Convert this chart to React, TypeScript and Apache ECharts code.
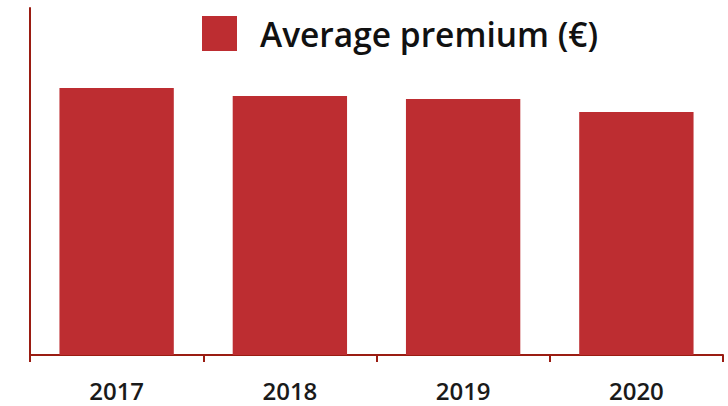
import React, { useEffect, useRef } from "react";
import * as echarts from "echarts";

const categories = ["2017", "2018", "2019", "2020"];
const premiumValues = [1000, 970, 959, 910];
const seriesName = "Average premium (€)";

export default function App() {
  const ref = useRef<HTMLDivElement>(null);
  useEffect(() => {
    if (!ref.current) return;
    const chart = echarts.init(ref.current, null, { renderer: "svg" });
    chart.setOption({
      animation: false,
      legend: {
        left: 202,
        top: 16,
        padding: 0,
        itemWidth: 35,
        itemHeight: 35,
        icon: "rect",
        textStyle: {
          fontFamily: "Open Sans",
          fontWeight: 600,
          fontSize: 33.5,
          color: "#111",
          padding: [0, 0, 0, 18],
        },
        data: [seriesName],
      },
      grid: { left: 30, right: 5, top: 8, bottom: 51, containLabel: false },
      xAxis: {
        type: "category",
        data: categories,
        axisLine: { show: true, lineStyle: { color: "#9a1c12", width: 2 } },
        axisTick: { show: true, length: 7, lineStyle: { color: "#9a1c12", width: 2 } },
        axisLabel: {
          fontFamily: "Open Sans",
          fontWeight: 600,
          fontSize: 24,
          lineHeight: 24,
          color: "#1a1a1a",
          margin: 23,
        },
      },
      yAxis: {
        type: "value",
        min: 0,
        max: 1300,
        axisLine: { show: true, lineStyle: { color: "#9a1c12", width: 2 } },
        axisTick: { show: false },
        axisLabel: { show: false },
        splitLine: { show: false },
      },
      series: [
        {
          name: seriesName,
          type: "bar",
          data: premiumValues,
          barCategoryGap: "34%",
          itemStyle: { color: "#bd2d31" },
        },
      ],
    });
    return () => chart.dispose();
  }, []);
  return <div ref={ref} style={{ width: 728, height: 406, position: "absolute", left: 0, top: 0 }} />;
}
